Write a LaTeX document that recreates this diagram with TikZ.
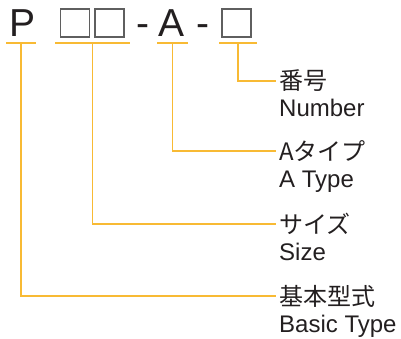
\documentclass[tikz,border=0pt]{standalone}
\usepackage{fontspec}
\setmainfont{Liberation Sans}
\newfontfamily\jpfont{Noto Sans CJK JP}
\usetikzlibrary{positioning,calc}
\definecolor{ink}{RGB}{35,31,32}
\definecolor{gold}{RGB}{248,186,52}
\definecolor{frame}{RGB}{95,95,95}
\tikzset{
  code/.style={font=\fontsize{39}{39}\selectfont,text=ink,inner sep=0pt,anchor=base},
  slot/.style={draw=frame,line width=1.2pt,minimum width=29pt,minimum height=28pt,inner sep=0pt},
  lead/.style={draw=gold,line width=1.4pt},
  jp/.style={font=\jpfont\fontsize{24}{24}\selectfont,text=ink,anchor=west,inner xsep=3pt,inner ysep=0pt},
  en/.style={font=\fontsize{24}{24}\selectfont,text=ink,anchor=base west,inner xsep=3pt,inner ysep=0pt},
}

\begin{document}
\begin{tikzpicture}[x=1pt,y=-1pt]
  \useasboundingbox (0,0) rectangle (401,338);
  % model code
  \node[code] (p) at (23,36) {P};
  \node[slot] (s1) at (75,23) {};
  \node[slot] (s2) at (109.5,23) {};
  \node[code] (d1) at (143,36) {-};
  \node[code] (a) at (171.5,36) {A};
  \node[code] (d2) at (203,36) {-};
  \node[slot] (s3) at (236.5,23) {};

  % labels
  \node[jp] (num) at (276,81) {番号};
  \node[en] (numE) at ([yshift=-27pt]num.base west) {Number};
  \node[jp] (atype) at (276,151) {Aタイプ};
  \node[en] (atypeE) at ([yshift=-27pt]atype.base west) {A Type};
  \node[jp] (size) at (276,224) {サイズ};
  \node[en] (sizeE) at ([yshift=-27pt]size.base west) {Size};
  \node[jp] (basic) at (276,296) {基本型式};
  \node[en] (basicE) at ([yshift=-27pt]basic.base west) {Basic Type};

  % leader lines
  \coordinate (tp) at (21,43);
  \coordinate (ts) at (92.5,43);
  \coordinate (ta) at (172.5,43);
  \coordinate (tn) at (238,43);
  \draw[lead] ([xshift=-15pt]tp) -- ([xshift=15pt]tp);
  \draw[lead] ([xshift=-37.5pt]ts) -- ([xshift=37.5pt]ts);
  \draw[lead] ([xshift=-15.5pt]ta) -- ([xshift=15.5pt]ta);
  \draw[lead] ([xshift=-19pt]tn) -- ([xshift=19pt]tn);
  \draw[lead] (tn) |- (num.west);
  \draw[lead] (ta) |- (atype.west);
  \draw[lead] (ts) |- (size.west);
  \draw[lead] (tp) |- (basic.west);
\end{tikzpicture}
\end{document}
